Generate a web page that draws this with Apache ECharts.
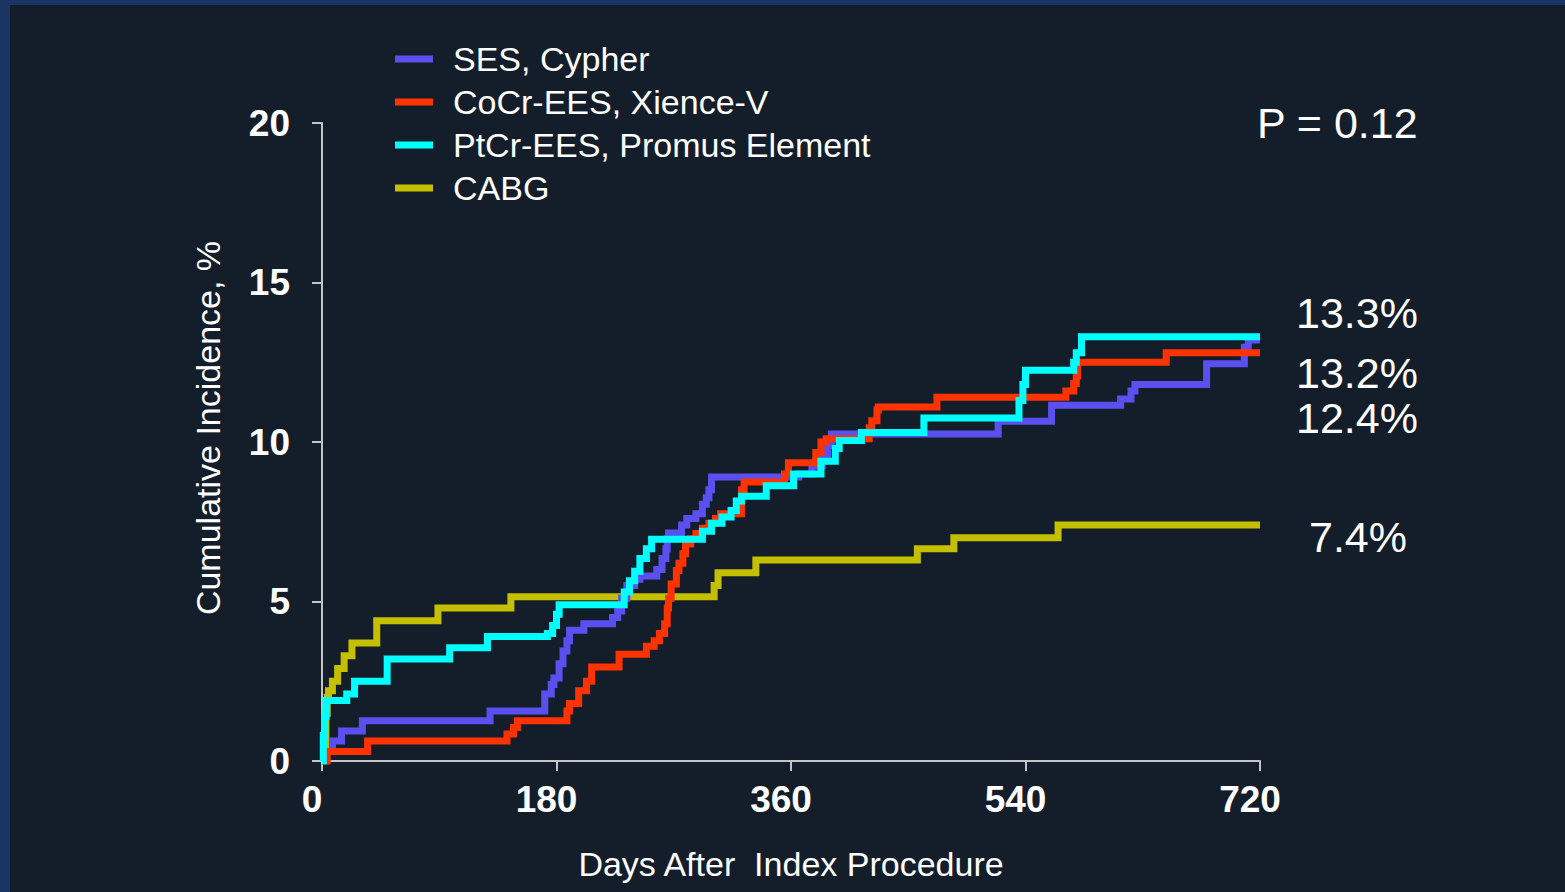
<!DOCTYPE html>
<html>
<head>
<meta charset="utf-8">
<script src="https://cdn.jsdelivr.net/npm/echarts@6/dist/echarts.min.js"></script>
<style>
  html, body { margin: 0; padding: 0; background: #141e2b; }
  #chart { width: 1565px; height: 892px; }
</style>
</head>
<body>
<div id="chart"></div>
<script>
// Cumulative incidence (%) by days after the index procedure, one [day, value] pair per step.
const seriesNames = ['SES, Cypher', 'CoCr-EES, Xience-V', 'PtCr-EES, Promus Element', 'CABG'];

const sesCypher = [
  [0, 0], [3, 0.3], [8, 0.63], [15, 0.94], [31, 1.26], [129, 1.57], [171, 2.1], [176, 2.4],
  [178, 2.6], [182, 3.05], [185, 3.45], [188, 3.77], [190, 4.1], [201, 4.3], [223, 4.5],
  [227, 4.7], [230, 5.1], [234, 5.5], [240, 5.7], [244, 5.8], [257, 6.0], [261, 6.35],
  [264, 6.65], [265, 6.97], [266, 7.15], [276, 7.4], [280, 7.6], [287, 7.75], [292, 8.05],
  [295, 8.25], [297, 8.5], [299, 8.9], [366, 9.0], [376, 9.25], [384, 9.6], [388, 9.9],
  [391, 10.25], [519, 10.65], [560, 11.15], [613, 11.35], [621, 11.6], [624, 11.8],
  [679, 12.0], [679, 12.45], [708, 12.97], [711, 13.2], [720, 13.2]
];

const cocrXience = [
  [0, 0], [4, 0.3], [35, 0.63], [142, 0.85], [147, 1.05], [150, 1.26], [188, 1.57], [190, 1.8],
  [197, 2.2], [203, 2.5], [207, 2.95], [228, 3.35], [249, 3.6], [255, 3.77], [259, 4.0],
  [263, 4.3], [265, 4.8], [266, 5.1], [268, 5.55], [272, 5.97], [274, 6.2], [277, 6.5],
  [279, 6.8], [283, 6.97], [287, 7.13], [292, 7.3], [297, 7.45], [302, 7.6], [306, 7.75],
  [322, 8.5], [324, 8.75], [355, 9.0], [358, 9.35], [379, 9.67], [383, 10.0], [387, 10.1],
  [420, 10.45], [422, 10.67], [426, 11.0], [427, 11.1], [472, 11.4], [571, 11.6],
  [577, 11.83], [579, 12.07], [580, 12.5], [648, 12.8], [720, 12.8]
];

const ptcrPromus = [
  [0, 0], [1, 0.8], [2, 1.4], [3, 1.9], [19, 2.1], [25, 2.5], [50, 3.2], [98, 3.55],
  [127, 3.9], [173, 4.0], [177, 4.25], [180, 4.6], [182, 4.9], [232, 5.3], [236, 5.65],
  [240, 5.95], [244, 6.35], [249, 6.65], [253, 6.95], [292, 7.2], [299, 7.45], [307, 7.65],
  [314, 7.85], [318, 8.15], [322, 8.3], [341, 8.63], [362, 9.0], [383, 9.4], [394, 9.8],
  [397, 10.05], [414, 10.3], [462, 10.75], [535, 11.3], [538, 11.8], [540, 12.25],
  [577, 12.5], [579, 12.8], [583, 13.3], [720, 13.3]
];

const cabg = [
  [0, 0], [2, 0.5], [3, 1.5], [4, 2.0], [5, 2.2], [8, 2.5], [12, 2.9], [17, 3.3], [23, 3.7],
  [42, 4.4], [89, 4.8], [145, 5.15], [301, 5.5], [304, 5.9], [333, 6.3], [457, 6.65],
  [485, 7.0], [565, 7.4], [720, 7.4]
];

const xTicks = [0, 180, 360, 540, 720];
const yTicks = [0, 5, 10, 15, 20];
const endLabels = ['13.3%', '13.2%', '12.4%', '7.4%'];
const pValueText = 'P = 0.12';

const colors = ['#5a50f0', '#ff3300', '#00ffff', '#c4c000'];
const FONT = '"Liberation Sans", Arial, sans-serif';

const chart = echarts.init(document.getElementById('chart'), null, { renderer: 'svg' });

function stepSeries(name, data, color, z) {
  return {
    name: name,
    type: 'line',
    step: 'end',
    data: data,
    showSymbol: false,
    color: color,
    z: z,
    lineStyle: { width: 7, color: color, cap: 'butt', join: 'miter' },
    emphasis: { disabled: true }
  };
}

const endLabelPos = [
  { x: 1357, y: 313 },
  { x: 1357, y: 373 },
  { x: 1357, y: 418 },
  { x: 1358, y: 537 }
];

chart.setOption({
  animation: false,
  backgroundColor: '#141e2b',
  grid: { left: 322, right: 305, top: 123, bottom: 131 },
  legend: {
    orient: 'vertical',
    left: 390,
    top: 37,
    icon: 'rect',
    itemWidth: 38,
    itemHeight: 7,
    itemGap: 9,
    selectedMode: false,
    data: seriesNames,
    textStyle: { color: '#ffffff', fontSize: 34, fontFamily: FONT, lineHeight: 34, padding: [0, 0, 0, 15] }
  },
  xAxis: {
    type: 'value',
    min: xTicks[0],
    max: xTicks[xTicks.length - 1],
    interval: 180,
    name: 'Days After  Index Procedure',
    nameLocation: 'middle',
    nameGap: 86,
    nameTextStyle: { color: '#ffffff', fontSize: 34, fontFamily: FONT },
    splitLine: { show: false },
    axisLine: { lineStyle: { color: '#c4c4c4', width: 2 } },
    axisTick: { show: true, length: 10, lineStyle: { color: '#c4c4c4', width: 2 } },
    axisLabel: { color: '#ffffff', fontSize: 37, fontWeight: 'bold', fontFamily: FONT, margin: 20, padding: [0, 20, 0, 0] }
  },
  yAxis: {
    type: 'value',
    min: yTicks[0],
    max: yTicks[yTicks.length - 1],
    interval: 5,
    splitLine: { show: false },
    axisLine: { show: true, lineStyle: { color: '#c4c4c4', width: 2 } },
    axisTick: { show: true, length: 10, lineStyle: { color: '#c4c4c4', width: 2 } },
    axisLabel: { color: '#ffffff', fontSize: 37, fontWeight: 'bold', fontFamily: FONT, margin: 32 }
  },
  graphic: [
    { type: 'rect', silent: true, z: -10, shape: { x: 0, y: 0, width: 1565, height: 5 }, style: { fill: '#1b3464' } },
    { type: 'rect', silent: true, z: -10, shape: { x: 0, y: 0, width: 10, height: 892 }, style: { fill: '#1b3464' } },
    {
      type: 'text', silent: true, x: 208, y: 428, rotation: Math.PI / 2,
      style: { text: 'Cumulative Incidence, %', fill: '#ffffff', font: '34px ' + FONT, textAlign: 'center', textVerticalAlign: 'middle' }
    },
    {
      type: 'text', silent: true, x: 1257, y: 123,
      style: { text: pValueText, fill: '#ffffff', font: '43px ' + FONT, textAlign: 'left', textVerticalAlign: 'middle' }
    }
  ].concat(endLabels.map(function (t, i) {
    return {
      type: 'text', silent: true, x: endLabelPos[i].x, y: endLabelPos[i].y,
      style: { text: t, fill: '#ffffff', font: '43px ' + FONT, textAlign: 'center', textVerticalAlign: 'middle' }
    };
  })),
  series: [
    stepSeries(seriesNames[0], sesCypher, colors[0], 3),
    stepSeries(seriesNames[1], cocrXience, colors[1], 4),
    stepSeries(seriesNames[2], ptcrPromus, colors[2], 5),
    stepSeries(seriesNames[3], cabg, colors[3], 2)
  ]
});
</script>
</body>
</html>
